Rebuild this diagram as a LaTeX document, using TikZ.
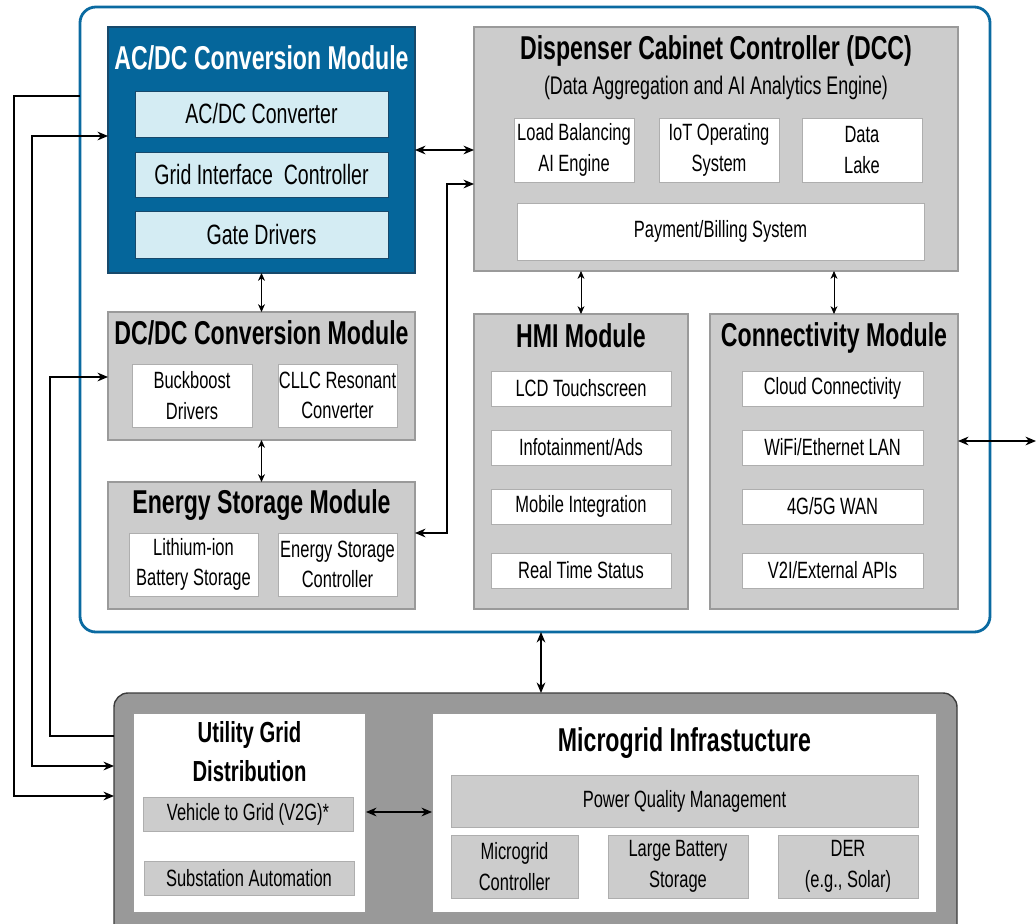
\documentclass[tikz,border=0pt]{standalone}
\usepackage{fontspec}
\setmainfont{Liberation Sans}[FakeStretch=0.7]
\usetikzlibrary{arrows.meta}
\definecolor{cabblue}{HTML}{0A6AA1}
\definecolor{acblue}{HTML}{05669B}
\definecolor{acline}{HTML}{17496B}
\definecolor{iceblue}{HTML}{D4ECF3}
\definecolor{modgray}{HTML}{CCCCCC}
\definecolor{modline}{HTML}{9A9A9A}
\definecolor{gridgray}{HTML}{999999}
\definecolor{gridline}{HTML}{3C3C3C}
\tikzset{
  %Define standard arrow tip
  >={Stealth[length=6pt,width=5pt]},
  %Box size given in pixels of the sketch
  dims/.style 2 args={minimum width=#1*0.02cm, minimum height=#2*0.02cm},
  %Define style for the cabinet frame
  frame/.style={
    rectangle,
    rounded corners=9pt,
    draw=cabblue, line width=1.6pt,
    fill=white,
    anchor=north west, inner sep=0pt, outer sep=0pt},
  %Define style for modules
  module/.style={
    rectangle,
    draw=modline, line width=0.6pt,
    fill=modgray,
    anchor=north west, inner sep=0pt, outer sep=0pt},
  %Define style for parts inside a module
  part/.style={
    rectangle,
    draw=modline!80, line width=0.5pt,
    fill=white,
    anchor=north west, inner sep=0pt, outer sep=0pt,
    align=center,
    font=\fontsize{13.4}{17.5}\selectfont},
  %Define style for module titles
  head/.style={
    anchor=base, inner sep=0pt,
    font=\bfseries\fontsize{18.8}{22}\selectfont},
  % Define arrow styles
  link/.style={<->, line width=0.75pt},
  feed/.style={->, line width=0.75pt},
  slim/.style={<->, line width=0.5pt, >={Stealth[length=4.5pt,width=4pt]}}
}

\begin{document}
\begin{tikzpicture}[x=0.02cm,y=-0.02cm]
  \useasboundingbox (0,0) rectangle (1036,924);
  % dispenser cabinet
  \node[frame, dims={910}{625}] (cabinet) at (80,7) {};

  \node[module, fill=acblue, draw=acline, dims={307}{246}] (acdc) at (108,27) {};
  \node[head, text=white] (acdctitle) at (261.5,69) {AC/DC Conversion Module};
  \node[part, fill=iceblue, draw=acline, font=\fontsize{15.9}{19}\selectfont, dims={253}{46}] (conv) at (135,91) {AC/DC Converter};
  \node[part, fill=iceblue, draw=acline, font=\fontsize{15.9}{19}\selectfont, dims={253}{45}] (gic) at (135,152) {Grid Interface\ \ Controller};
  \node[part, fill=iceblue, draw=acline, font=\fontsize{15.9}{19}\selectfont, dims={253}{47}] (gate) at (135,211) {Gate Drivers};

  \node[module, dims={484}{244}] (dcc) at (474,27) {};
  \node[head] (dcctitle) at (716,59) {Dispenser Cabinet Controller (DCC)};
  \node[anchor=base, inner sep=0pt, font=\fontsize{14.5}{17}\selectfont] (dccsub) at (716,94) {(Data Aggregation and AI Analytics Engine)};
  \node[part, dims={120}{64}] (loadbal) at (514,118) {Load Balancing\\AI Engine};
  \node[part, dims={120}{64}] (iotos) at (659,118) {IoT Operating\\System};
  \node[part, dims={120}{64}] (lake) at (802,118) {Data\\Lake};
  \node[part, dims={407}{57}] (billing) at (517,203) {Payment/Billing System};

  \node[module, dims={307}{128}] (dcdc) at (108,312) {};
  \node[head] (dcdctitle) at (261.5,344) {DC/DC Conversion Module};
  \node[part, dims={120}{63}] (buck) at (132,364) {Buckboost\\Drivers};
  \node[part, dims={119}{63}] (cllc) at (278,364) {CLLC Resonant\\Converter};

  \node[module, dims={307}{127}] (storage) at (108,482) {};
  \node[head] (storagetitle) at (261.5,513) {Energy Storage Module};
  \node[part, dims={129}{63}] (liion) at (129,533) {Lithium-ion\\Battery Storage};
  \node[part, dims={119}{63}] (esc) at (278,533) {Energy Storage\\Controller};

  \node[module, dims={214}{295}] (hmi) at (474,314) {};
  \node[head] (hmititle) at (581,347) {HMI Module};
  \node[part, dims={180}{35}] (lcd) at (491,371) {LCD Touchscreen};
  \node[part, dims={180}{35}] (ads) at (491,430) {Infotainment/Ads};
  \node[part, dims={180}{35}] (mobile) at (491,489) {Mobile Integration};
  \node[part, dims={180}{35}] (status) at (491,553) {Real Time Status};

  \node[module, dims={248}{295}] (conn) at (710,314) {};
  \node[head] (conntitle) at (834,346) {Connectivity Module};
  \node[part, dims={181}{35}] (cloud) at (742,371) {Cloud Connectivity};
  \node[part, dims={181}{35}] (lan) at (742,430) {WiFi/Ethernet LAN};
  \node[part, dims={181}{35}] (wan) at (742,489) {4G/5G WAN};
  \node[part, dims={181}{35}] (apis) at (742,553) {V2I/External APIs};

  % grid side
  \node[module, rounded corners=8pt, fill=gridgray, draw=gridline, line width=0.8pt, dims={843}{260}] (gridzone) at (114,693) {};

  \node[module, fill=white, dims={233}{200}] (utility) at (133,713) {};
  \node[anchor=north, inner sep=0pt, align=center, font=\bfseries\fontsize{16.5}{22}\selectfont] (utilitytitle) at (249.5,721) {Utility Grid\\Distribution};
  \node[part, fill=modgray, dims={210}{34}] (v2g) at (143,797) {Vehicle to Grid (V2G)*};
  \node[part, fill=modgray, dims={210}{34}] (subst) at (144,861) {Substation Automation};

  \node[module, fill=white, dims={505}{200}] (microgrid) at (432,713) {};
  \node[head] (microgridtitle) at (684.5,751) {Microgrid Infrastucture};
  \node[part, fill=modgray, dims={467}{52}] (pqm) at (451,775) {Power Quality Management};
  \node[part, fill=modgray, dims={127}{63}] (mgc) at (451,835) {Microgrid\\Controller};
  \node[part, fill=modgray, dims={140}{63}] (bigbatt) at (608,835) {Large Battery\\Storage};
  \node[part, fill=modgray, dims={140}{63}] (der) at (778,835) {DER\\(e.g., Solar)};

  % connectors
  \coordinate (outside) at (1036,441);
  \draw[link] (acdc.east |- 0,150) -- (dcc.west |- 0,150);
  \draw[link] (storage.east |- 0,533) -- (447,533) |- (dcc.west |- 0,184);
  \draw[slim] (acdc.south) -- (dcdc.north);
  \draw[slim] (dcdc.south) -- (storage.north);
  \draw[slim] (hmi.north |- dcc.south) -- (hmi.north);
  \draw[slim] (conn.north |- dcc.south) -- (conn.north);
  \draw[link] (conn.east |- outside) -- (outside);
  \draw[link] (cabinet.south -| 541,0) -- (gridzone.north -| 541,0);
  \draw[link] (utility.east |- 0,812) -- (microgrid.west |- 0,812);
  \draw[feed] (cabinet.west |- 0,96) -- (14,96) |- (gridzone.west |- 0,796);
  \draw[link] (gridzone.west |- 0,766) -- (32,766) |- (acdc.west |- 0,136);
  \draw[feed] (gridzone.west |- 0,736) -- (50,736) |- (dcdc.west |- 0,377);
\end{tikzpicture}
\end{document}
